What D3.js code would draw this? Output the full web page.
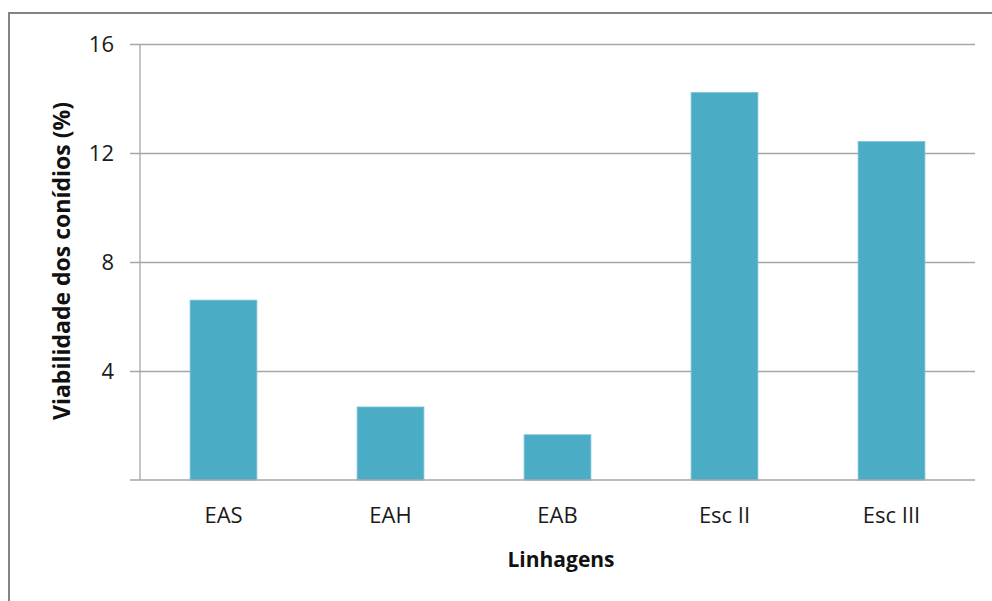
<!DOCTYPE html>
<html><head><meta charset="utf-8">
<script src="https://cdn.jsdelivr.net/npm/d3@7"></script>
<style>body{margin:0;background:#fff}svg{display:block}</style>
</head><body>
<script>
const categories = ["EAS", "EAH", "EAB", "Esc II", "Esc III"];
const values = [6.6, 2.68, 1.66, 14.22, 12.42];
const yTicks = [4, 8, 12, 16];
const xTitle = "Linhagens";
const yTitle = "Viabilidade dos conídios (%)";

const W = 992, H = 601;
const m = {left: 140, right: 17, top: 44, bottom: 121};
const svg = d3.select("body").append("svg").attr("width", W).attr("height", H);
const font = "'Open Sans', sans-serif";

svg.append("rect").attr("x", 9).attr("y", 13).attr("width", W + 10).attr("height", H + 10)
  .attr("fill", "none").attr("stroke", "#848484").attr("stroke-width", 2);

const x = d3.scaleBand().domain(categories).range([m.left, W - m.right]).paddingInner(0.6).paddingOuter(0.3);
const y = d3.scaleLinear().domain([0, 16]).range([H - m.bottom, m.top]);

const g = svg.append("g");
const yAxis = d3.axisLeft(y).tickValues(yTicks).tickSize(-(W - m.right - m.left)).tickSizeOuter(0).tickPadding(26);
const ya = g.append("g").attr("transform", `translate(${m.left},0)`).call(yAxis);
ya.select(".domain").remove();
ya.selectAll(".tick line").attr("stroke", "#a6a6a6").attr("stroke-width", 1.3).attr("x1", -10);
ya.selectAll(".tick text").attr("font-family", font).attr("font-size", 22).attr("fill", "#1a1a1a");

g.append("line").attr("x1", m.left).attr("x2", m.left).attr("y1", y(16)).attr("y2", y(0))
  .attr("stroke", "#a6a6a6").attr("stroke-width", 1.3);

g.selectAll("rect.bar").data(values).join("rect").attr("class", "bar")
  .attr("x", (d, i) => x(categories[i])).attr("width", x.bandwidth())
  .attr("y", d => y(d)).attr("height", d => y(0) - y(d))
  .attr("fill", "#4bacc6").attr("stroke", "#7cc4d8").attr("stroke-width", 0.8);

const xa = g.append("g").attr("transform", `translate(0,${y(0)})`)
  .call(d3.axisBottom(x).tickSize(0).tickPadding(27));
xa.select(".domain").remove();
xa.selectAll(".tick text").attr("font-family", font).attr("font-size", 22).attr("fill", "#1a1a1a");
g.append("line").attr("x1", m.left - 10).attr("x2", W - m.right).attr("y1", y(0)).attr("y2", y(0))
  .attr("stroke", "#a6a6a6").attr("stroke-width", 1.3);

svg.append("text").attr("x", 561).attr("y", 567).attr("text-anchor", "middle")
  .attr("font-family", font).attr("font-weight", "bold").attr("font-size", 21).attr("fill", "#111").text(xTitle);
svg.append("text").attr("transform", `translate(70,261) rotate(-90)`).attr("text-anchor", "middle")
  .attr("font-family", font).attr("font-weight", "bold").attr("font-size", 23).attr("fill", "#111").text(yTitle);
</script>
</body></html>
